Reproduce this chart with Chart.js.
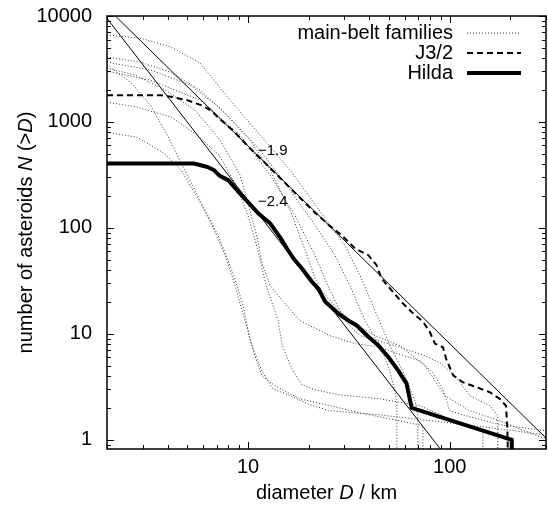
<!DOCTYPE html>
<html>
<head>
<meta charset="utf-8">
<script src="https://cdn.jsdelivr.net/npm/chart.js@4/dist/chart.umd.min.js"></script>
<style>
  html, body { margin: 0; padding: 0; background: #fff; }
</style>
</head>
<body>
<canvas id="chart" width="548" height="510"></canvas>
<script>
// diameters D (km) and cumulative counts N(>D)
const hildaD = [2, 5.4, 6.3, 6.8, 7.2, 8.0, 9.0, 10.0, 11.3, 12.9, 14.4, 15.6, 16.8, 18.5, 20.7, 22.3, 23.2, 24.1, 28.1, 31.4, 34.6, 39.5, 44.2, 49.6, 55.6, 61.1, 64.7, 203, 203];
const hildaN = [405, 405, 376, 350, 313, 281, 218, 175, 136, 110, 82, 64, 51.5, 41.4, 31.2, 26.8, 23.2, 20.2, 15.5, 13.4, 12.0, 9.4, 7.8, 6.05, 4.5, 3.4, 2.0, 1.0, 0.5];

const j32D = [2, 3.7, 4.15, 5.0, 5.85, 6.55, 7.2, 8.5, 10, 12, 15, 18, 21, 25.5, 29.1, 33.9, 39.5, 43.4, 45.9, 51.5, 57.7, 64.7, 73.8, 79.7, 84.4, 92.5, 96, 104, 116, 135, 157, 177, 190, 193, 195];
const j32N = [1790, 1790, 1726, 1606, 1440, 1291, 1078, 820, 590, 420, 275, 195, 145, 104, 85.5, 64, 55.3, 44.5, 33.3, 25.8, 20, 16.1, 13, 10.4, 8.1, 7.5, 5.8, 4.06, 3.5, 3.15, 2.83, 2.44, 2.1, 1.3, 0.5];

// main-belt families
const famA_D = [2, 2.92, 4.16, 5.79, 8.15, 11.5, 16.2, 24.9, 30.2, 35.9, 42.6, 50.5, 60.0, 67.2, 69.5, 69.5, 69.5];
const famA_N = [6610, 6190, 5090, 3590, 1610, 750, 350, 113, 68.4, 35.6, 16.6, 7.74, 4.03, 2.34, 1.69, 1, 0.5];
const famB_D = [2, 2.92, 4.12, 5.79, 8.15, 11.5, 16.2, 21.5, 27.0, 32.0, 38.0, 45.1, 50.5, 54.7, 54.7, 54.7];
const famB_N = [4100, 3670, 2950, 2000, 1085, 541, 226, 106, 55.0, 28.6, 13.3, 7.74, 4.49, 2.34, 1, 0.5];
const famC_D = [2, 2.61, 3.28, 3.98, 4.67, 5.79, 7.11, 8.44, 9.46, 10.24, 11.7, 13.3, 16.2, 20.3, 25.5, 45.1, 89.3, 177, 300];
const famC_N = [3440, 2380, 1440, 750, 407, 182, 84.9, 37.2, 18.5, 8.63, 4.49, 3.03, 2.61, 2.14, 1.88, 1.72, 1.48, 1.27, 1.11];
const famD_D = [2, 2.76, 3.89, 5.47, 7.28, 9.14, 10.24, 11.2, 11.7, 12.9, 14.8, 18.1, 25.5, 33.9, 44.1, 53.5, 71.1, 82.5, 92.4, 100, 120, 177, 300];
const famD_N = [3220, 2770, 2000, 1290, 672, 314, 146, 76.2, 47.2, 28.6, 20.6, 13.3, 9.63, 8.09, 7.57, 6.65, 5.58, 4.30, 3.03, 1.88, 1.69, 1.39, 1.22];
const famE_D = [2, 2.82, 4.16, 5.60, 7.19, 8.73, 10.0, 11.2, 12.3, 14.1, 14.8, 16.5, 18.5, 21.5, 28.6, 45.1, 71.1, 100, 133, 146, 146, 146];
const famE_N = [1540, 1380, 1110, 750, 485, 252, 131, 61.3, 28.6, 13.3, 7.74, 4.69, 3.31, 2.97, 2.66, 2.44, 2.10, 1.58, 1.30, 1.22, 1, 0.5];
const famF_D = [2, 2.82, 3.84, 4.67, 5.60, 6.64, 7.70, 8.63, 9.35, 10.0, 10.8, 11.7, 13.6, 15.8, 18.1, 25.5, 35.9, 56.6, 73.6, 73.6, 73.6];
const famF_N = [800, 718, 506, 350, 194, 106, 55.0, 28.6, 16.6, 10.7, 6.22, 4.03, 3.24, 2.78, 2.44, 2.10, 1.80, 1.51, 1.36, 1, 0.5];
const famG_D = [2, 3.28, 5.79, 9.14, 12.9, 17.1, 21.5, 25.5, 30.2, 35.9, 53.5, 75.3, 89.3, 106, 126, 158, 173, 173, 173];
const famG_N = [3020, 2480, 1610, 750, 314, 131, 55.0, 25.6, 13.3, 9.63, 7.74, 6.22, 5.35, 4.03, 2.61, 2.10, 1.69, 1, 0.5];
const famH_D = [2, 3.28, 5.17, 7.28, 10.24, 12.9, 16.2, 19.2, 22.2, 25.5, 32.0, 42.6, 56.6, 75.3, 94.6, 126, 177, 222, 300];
const famH_N = [3670, 3090, 2230, 1350, 672, 350, 146, 61.3, 28.6, 20.6, 13.3, 9.63, 7.74, 5.01, 2.61, 1.88, 1.51, 1.27, 1.02];

// power-law guide lines (end points)
const slope19D = [2.2, 300];
const slope19N = [10000, 1.04];
const slope24D = [2, 100];
const slope24N = [9500, 0.63];

const xTicks = [10, 100];
const yTicks = [1, 10, 100, 1000, 10000];

const FONT = '"Liberation Sans", Arial, sans-serif';
const FSIZE = 20;

function pts(ds, ns) {
	return ds.map((d, i) => ({ x: d, y: ns[i] }));
}

const famStyle = { borderColor: '#333', borderWidth: 1, borderDash: [1, 2] };

const datasets = [
	{ label: 'Hilda', data: pts(hildaD, hildaN), borderColor: '#000', borderWidth: 4, borderJoinStyle: 'round' },
	{ label: 'J3/2', data: pts(j32D, j32N), borderColor: '#000', borderWidth: 2, borderDash: [6, 4] },
	{ label: '-1.9', data: pts(slope19D, slope19N), borderColor: '#000', borderWidth: 1 },
	{ label: '-2.4', data: pts(slope24D, slope24N), borderColor: '#000', borderWidth: 1 },
	{ label: 'main-belt families', data: pts(famA_D, famA_N), ...famStyle },
	{ label: 'fB', data: pts(famB_D, famB_N), ...famStyle },
	{ label: 'fC', data: pts(famC_D, famC_N), ...famStyle },
	{ label: 'fD', data: pts(famD_D, famD_N), ...famStyle },
	{ label: 'fE', data: pts(famE_D, famE_N), ...famStyle },
	{ label: 'fF', data: pts(famF_D, famF_N), ...famStyle },
	{ label: 'fG', data: pts(famG_D, famG_N), ...famStyle },
	{ label: 'fH', data: pts(famH_D, famH_N), ...famStyle },
];
datasets.forEach((d) => { d.showLine = true; d.pointRadius = 0; d.tension = 0; });

// draw text made of plain and italic parts, centred on (cx, cy)
function drawMixed(ctx, parts, cx, cy, size) {
	let total = 0;
	parts.forEach((p) => {
		ctx.font = (p[1] ? 'italic ' : '') + size + 'px ' + FONT;
		total += ctx.measureText(p[0]).width;
	});
	let x = cx - total / 2;
	ctx.textAlign = 'left';
	ctx.textBaseline = 'middle';
	parts.forEach((p) => {
		ctx.font = (p[1] ? 'italic ' : '') + size + 'px ' + FONT;
		ctx.fillText(p[0], x, cy);
		x += ctx.measureText(p[0]).width;
	});
}

const gnuFrame = {
	id: 'gnuFrame',
	afterDraw(chart) {
		const { ctx, chartArea: a, scales: { x, y } } = chart;
		ctx.save();
		ctx.strokeStyle = '#000';
		ctx.fillStyle = '#000';
		ctx.lineWidth = 1;

		// tick marks on all four sides, pointing inwards
		ctx.beginPath();
		for (let dec = 1; dec <= 100; dec *= 10) {
			for (let m = 1; m < 10; m++) {
				const v = m * dec;
				if (v < x.min || v > x.max) continue;
				const px = Math.round(x.getPixelForValue(v)) + 0.5;
				const len = m === 1 ? 7 : 4;
				ctx.moveTo(px, a.bottom); ctx.lineTo(px, a.bottom - len);
				ctx.moveTo(px, a.top); ctx.lineTo(px, a.top + len);
			}
		}
		for (let dec = 0.1; dec <= 10000; dec *= 10) {
			for (let m = 1; m < 10; m++) {
				const v = m * dec;
				if (v < y.min || v > y.max * 1.0001) continue;
				const py = Math.round(y.getPixelForValue(v)) + 0.5;
				const len = m === 1 ? 7 : 4;
				ctx.moveTo(a.left, py); ctx.lineTo(a.left + len, py);
				ctx.moveTo(a.right, py); ctx.lineTo(a.right - len, py);
			}
		}
		ctx.stroke();

		ctx.lineWidth = 1.5;
		ctx.strokeRect(a.left, a.top, a.right - a.left, a.bottom - a.top);

		// slope labels
		ctx.font = '15px ' + FONT;
		ctx.textAlign = 'left';
		ctx.textBaseline = 'middle';
		ctx.fillText('\u22121.9', x.getPixelForValue(11.2), y.getPixelForValue(530));
		ctx.fillText('\u22122.4', x.getPixelForValue(11.2), y.getPixelForValue(175));

		// legend, gnuplot style
		const rows = [
			{ text: 'main-belt families', width: 1, dash: [1, 2], color: '#333' },
			{ text: 'J3/2', width: 2, dash: [6, 4], color: '#000' },
			{ text: 'Hilda', width: 4, dash: [], color: '#000' },
		];
		rows.forEach((r, i) => {
			const ry = a.top + 17 + i * 20;
			ctx.font = FSIZE + 'px ' + FONT;
			ctx.textAlign = 'right';
			ctx.fillStyle = '#000';
			ctx.fillText(r.text, 453, ry);
			ctx.beginPath();
			ctx.setLineDash(r.dash);
			ctx.lineWidth = r.width;
			ctx.strokeStyle = r.color;
			ctx.moveTo(467, ry);
			ctx.lineTo(521, ry);
			ctx.stroke();
		});
		ctx.setLineDash([]);

		// axis titles
		ctx.fillStyle = '#000';
		drawMixed(ctx, [['diameter ', false], ['D', true], [' / km', false]], (a.left + a.right) / 2, 493, FSIZE);
		ctx.save();
		ctx.translate(26, (a.top + a.bottom) / 2);
		ctx.rotate(-Math.PI / 2);
		drawMixed(ctx, [['number of asteroids ', false], ['N', true], [' (>', false], ['D', true], [')', false]], 0, 0, FSIZE);
		ctx.restore();

		ctx.restore();
	}
};

new Chart(document.getElementById('chart'), {
	type: 'scatter',
	data: { datasets: datasets },
	options: {
		responsive: false,
		animation: false,
		layout: { padding: { top: 16, right: 2, left: 0, bottom: 0 } },
		plugins: { legend: { display: false }, tooltip: { enabled: false } },
		scales: {
			x: {
				type: 'logarithmic',
				min: 2,
				max: 300,
				afterFit: (s) => { s.height = 61; s.paddingLeft = 0; s.paddingRight = 0; },
				afterBuildTicks: (s) => { s.ticks = xTicks.map((v) => ({ value: v })); },
				grid: { display: false, drawTicks: false },
				border: { display: false },
				ticks: {
					padding: 6,
					color: '#000',
					maxRotation: 0,
					autoSkip: false,
					font: { family: FONT, size: FSIZE },
					callback: (v) => String(v),
				},
			},
			y: {
				type: 'logarithmic',
				min: 0.82,
				max: 10000,
				afterFit: (s) => { s.width = 107; s.paddingTop = 0; s.paddingBottom = 0; },
				afterBuildTicks: (s) => { s.ticks = yTicks.map((v) => ({ value: v })); },
				grid: { display: false, drawTicks: false },
				border: { display: false },
				ticks: {
					padding: 15,
					color: '#000',
					autoSkip: false,
					font: { family: FONT, size: FSIZE },
					callback: (v) => String(v),
				},
			},
		},
	},
	plugins: [gnuFrame],
});
</script>
</body>
</html>
